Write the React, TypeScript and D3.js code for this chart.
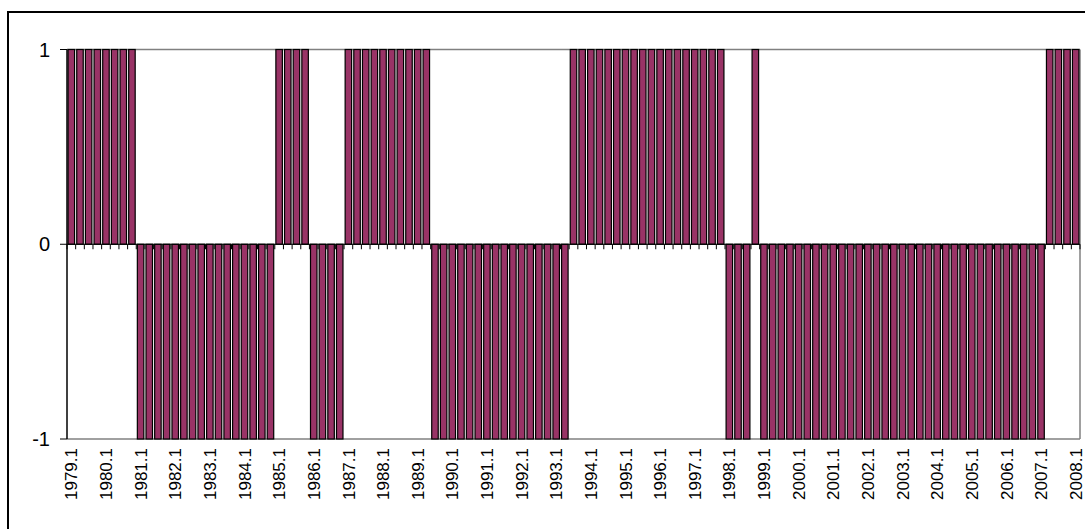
import * as d3 from 'd3'

// quarters 1979.1 .. 2008.1
const years = d3.range(1979, 2009)
const quarters = [1, 2, 3, 4]
const categories: string[] = []
years.forEach(yr => quarters.forEach(q => {
  if (yr < 2008 || q === 1) categories.push(`${yr}.${q}`)
}))

// one row per year
const values = [
  1, 1, 1, 1, // 1979
  1, 1, 1, 1, // 1980
  -1, -1, -1, -1, // 1981
  -1, -1, -1, -1, // 1982
  -1, -1, -1, -1, // 1983
  -1, -1, -1, -1, // 1984
  1, 1, 1, 1, // 1985
  -1, -1, -1, -1, // 1986
  1, 1, 1, 1, // 1987
  1, 1, 1, 1, // 1988
  1, 1, -1, -1, // 1989
  -1, -1, -1, -1, // 1990
  -1, -1, -1, -1, // 1991
  -1, -1, -1, -1, // 1992
  -1, -1, 1, 1, // 1993
  1, 1, 1, 1, // 1994
  1, 1, 1, 1, // 1995
  1, 1, 1, 1, // 1996
  1, 1, 1, 1, // 1997
  -1, -1, -1, 1, // 1998
  -1, -1, -1, -1, // 1999
  -1, -1, -1, -1, // 2000
  -1, -1, -1, -1, // 2001
  -1, -1, -1, -1, // 2002
  -1, -1, -1, -1, // 2003
  -1, -1, -1, -1, // 2004
  -1, -1, -1, -1, // 2005
  -1, -1, -1, -1, // 2006
  -1, 1, 1, 1, // 2007
  1, // 2008
]

const yTicks = [-1, 0, 1]

const W = 1085, H = 529
const left = 67, right = 1080, top = 49.5, bottom = 439
const font = 'Arial, "Liberation Sans", sans-serif'

export default function App() {
  const x = d3.scaleBand<string>()
    .domain(categories)
    .range([left, right])
    .paddingInner(0.25)
    .paddingOuter(0.125)
  const y = d3.scaleLinear().domain([-1, 1]).range([bottom, top])
  const y0 = y(0)
  const step = x.step()

  return (
    <svg width={W} height={H} style={{ position: 'absolute', left: 0, top: 0, background: '#fff' }}>
      {/* chart border */}
      <rect x={8} y={12} width={1100} height={600} fill="none" stroke="#000" strokeWidth={2} />

      {/* gridlines + plot border */}
      {[1, -1].map(v => (
        <line key={v} x1={left} x2={right} y1={y(v)} y2={y(v)} stroke="#808080" strokeWidth={1.5} />
      ))}
      <line x1={right} x2={right} y1={top} y2={bottom} stroke="#808080" strokeWidth={1.5} />

      {/* bars */}
      {categories.map((c, i) => (
        <rect key={c}
          x={x(c)}
          y={Math.min(y(values[i]), y0)}
          width={x.bandwidth()}
          height={Math.abs(y(values[i]) - y0)}
          fill="#993366" stroke="#000" strokeWidth={1.2} />
      ))}

      {/* category axis at 0 */}
      <line x1={left} x2={right} y1={y0} y2={y0} stroke="#000" strokeWidth={1} />
      {d3.range(categories.length + 1).map(i => (
        <line key={i} x1={left + i * step} x2={left + i * step} y1={y0} y2={y0 + 5} stroke="#000" strokeWidth={1} />
      ))}

      {/* value axis */}
      <line x1={left} x2={left} y1={top} y2={bottom} stroke="#000" strokeWidth={1.5} />
      {yTicks.map(t => (
        <g key={t}>
          <line x1={left - 7} x2={left} y1={y(t)} y2={y(t)} stroke="#000" strokeWidth={1} />
          <text x={50} y={y(t)} dy="0.35em" textAnchor="end" fontFamily={font} fontSize={20} fill="#000">{t}</text>
        </g>
      ))}

      {/* category labels, low position */}
      {categories.map((c, i) => i % 4 === 0 ? (
        <text key={c}
          transform={`translate(${(x(c) ?? 0) + x.bandwidth() / 2},448) rotate(-90)`}
          dy="0.36em" textAnchor="end" fontFamily={font} fontSize={17} fill="#000">{c}</text>
      ) : null)}
    </svg>
  )
}
